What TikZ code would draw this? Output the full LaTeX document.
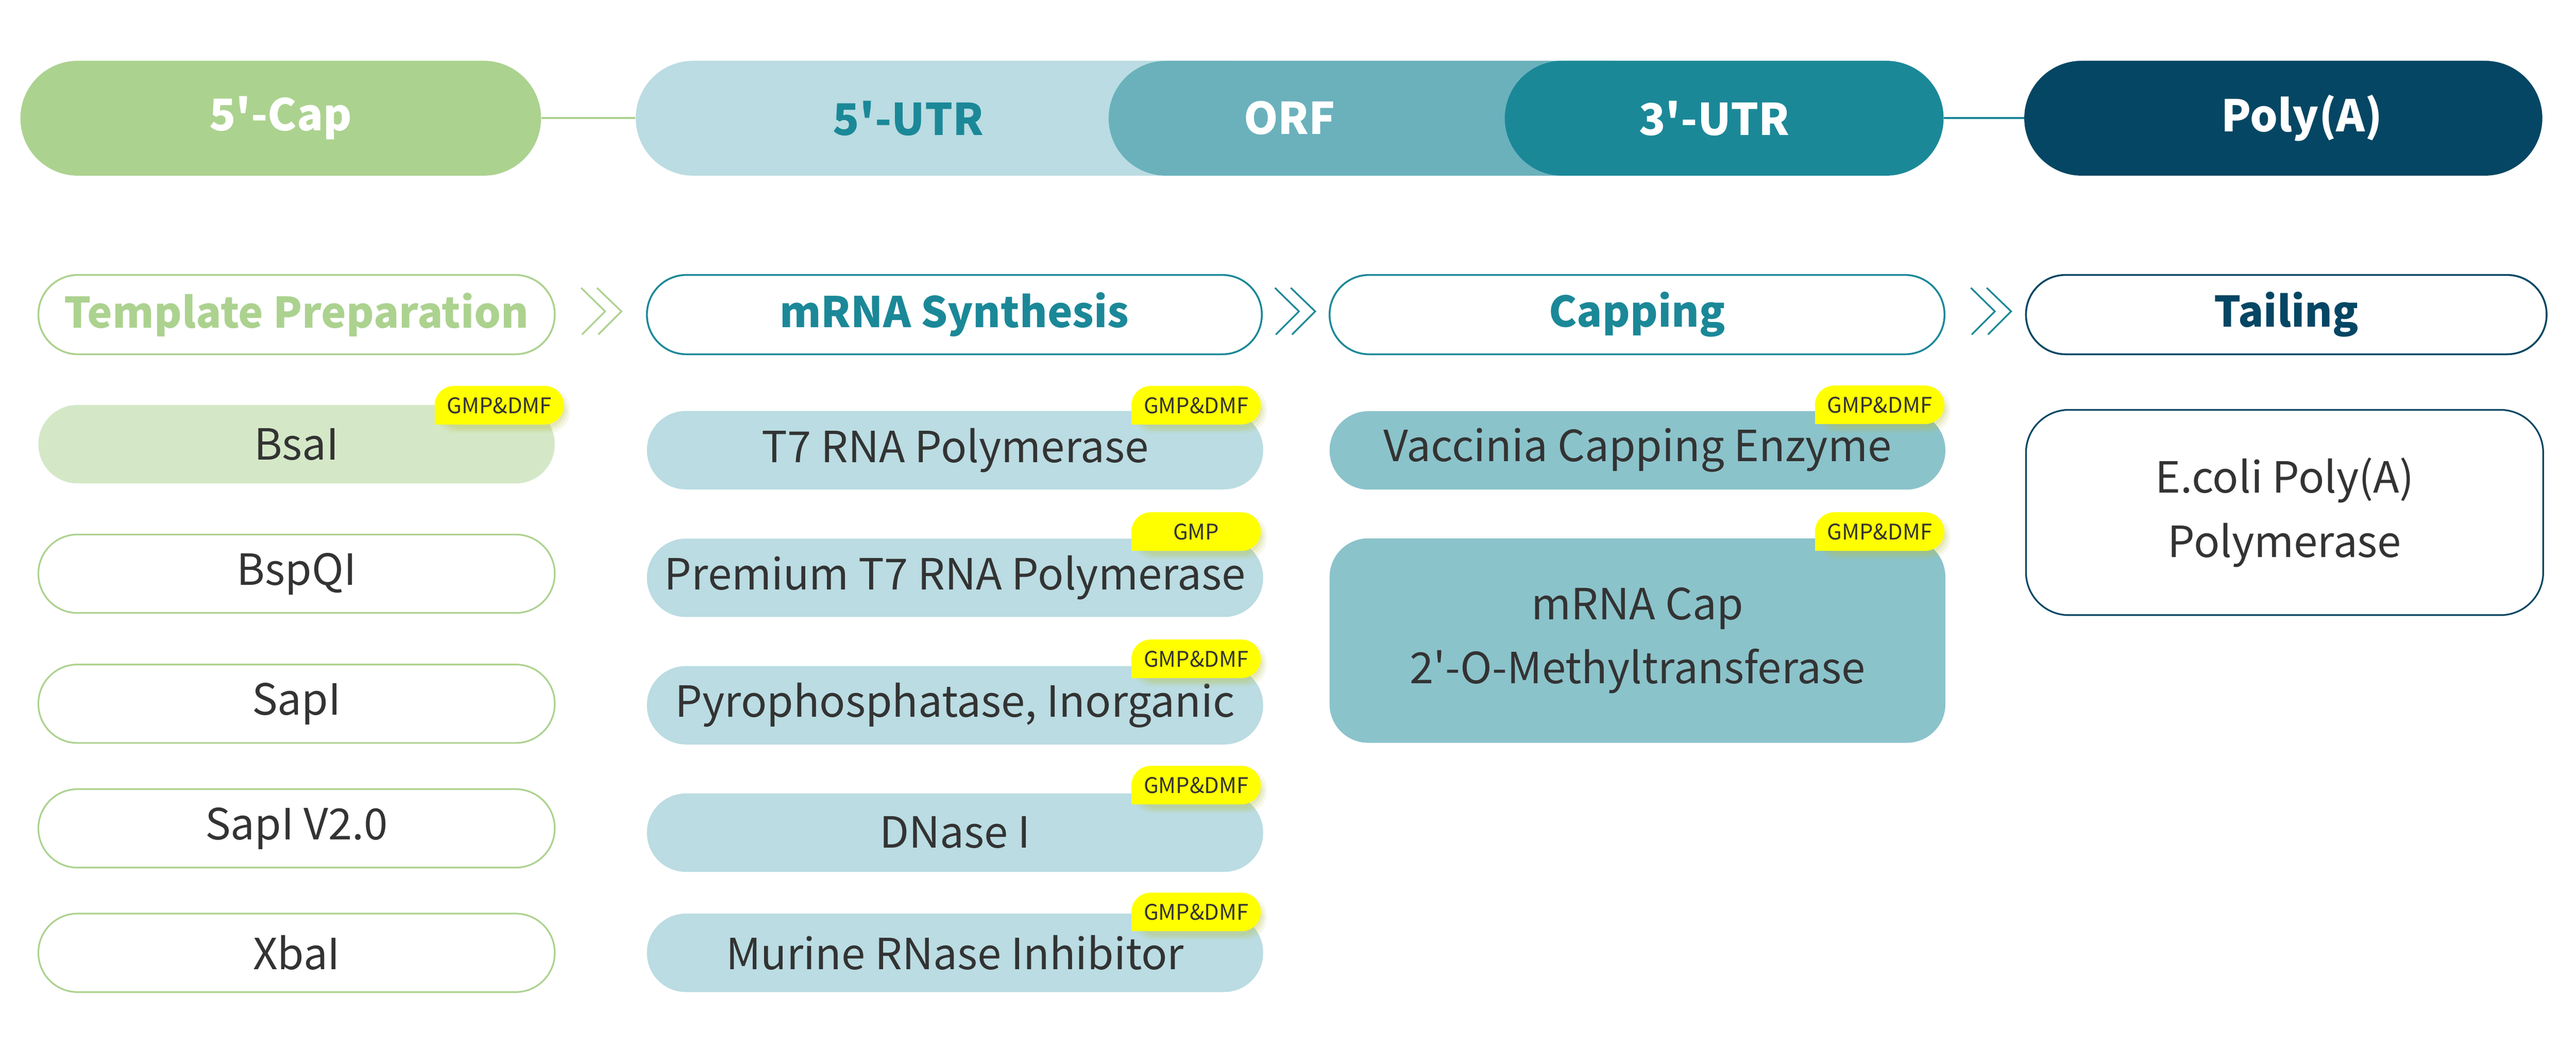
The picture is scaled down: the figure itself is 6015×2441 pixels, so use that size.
\documentclass[tikz,border=0pt]{standalone}
\usepackage{fontspec}
\setmainfont{Noto Sans CJK SC}
\newfontfamily\plainfam{Noto Sans CJK SC}
\newcommand\ap{{\plainfam\char39\relax}}
\definecolor{cgreen}{HTML}{ACD28F}
\definecolor{cgreenl}{HTML}{D4E8C7}
\definecolor{cblue}{HTML}{BADCE2}
\definecolor{corf}{HTML}{6AB1BC}
\definecolor{cteal}{HTML}{1B8898}
\definecolor{cnavy}{HTML}{044663}
\definecolor{cmid}{HTML}{8BC3CB}
\definecolor{ctext}{HTML}{333333}
\definecolor{cyel}{HTML}{FFFF00}
\definecolor{cshad}{HTML}{B8C040}
\tikzset{
  toppill/.style={rectangle, rounded corners=1.34cm, inner sep=0pt, minimum height=2.68cm},
  toplabel/.style={font=\fontsize{29}{34}\selectfont\bfseries, text=white},
  headpill/.style={rectangle, rounded corners=0.92cm, inner sep=0pt, minimum height=1.85cm, line width=1.2pt, fill=white, font=\fontsize{28}{34}\selectfont\bfseries},
  itempill/.style={rectangle, rounded corners=0.91cm, inner sep=0pt, minimum height=1.83cm, text=ctext, font=\fontsize{28.5}{34}\selectfont},
  itembox/.style={rectangle, inner sep=0pt, text=ctext, align=center, font=\fontsize{28.5}{42.7}\selectfont},
  badgetext/.style={inner sep=0pt, text=ctext, font=\fontsize{14.3}{17}\selectfont},
  chev/.style={line width=1.1pt},
  linkline/.style={line width=1.4pt}
}
\newcommand\mybadge[4]{%
  \begin{scope}[shift={(#1,#2)}]
    \foreach \d/\o in {14/0.10,9/0.14,4/0.18}{
      \fill[cshad, opacity=\o, rounded corners=0.5cm] (6-\d+8,10-\d+8) rectangle (302+\d,90+\d+6);
    }
    \fill[cyel, rounded corners=0.45cm] (0,0) rectangle (302,90);
    \fill[cyel] (0,40) rectangle (60,90);
    \node[badgetext] (#4) at (151,46) {#3};
  \end{scope}}
\begin{document}
\begin{tikzpicture}[x=0.01cm, y=-0.01cm]
\useasboundingbox[fill=white] (0,0) rectangle (6015,2441);
% ---------- top row
\node[toppill, fill=cgreen, minimum width=12.15cm] (cap) at (655.5,276) {};
\node[toppill, fill=cblue, minimum width=15.15cm] (utr5) at (2242.5,276) {};
\node[toppill, fill=corf, minimum width=13.11cm] (orf) at (3244.5,276) {};
\node[toppill, fill=cteal, minimum width=10.24cm] (utr3) at (4026,276) {};
\node[toppill, fill=cnavy, minimum width=12.09cm] (polya) at (5331.5,276) {};
\draw[linkline, cgreen] (cap.east) -- (utr5.west);
\draw[linkline, cteal] (utr3.east) -- (polya.west);
\node[toplabel] (tcap) at (655.5,276) {5\ap-Cap};
\node[toplabel, text=cteal] (tutr5) at (2121,276) {5\ap-UTR};
\node[toplabel] (torf) at (3011,276) {ORF};
\node[toplabel] (tutr3) at (4003,276) {3\ap-UTR};
\node[toplabel] (tpolya) at (5375,276) {Poly(A)};
% ---------- headers
\node[headpill, draw=cgreen, text=cgreen, minimum width=12.05cm] (tp) at (692.5,734.5) {Template Preparation};
\node[headpill, draw=cteal, text=cteal, minimum width=14.35cm] (ms) at (2228.5,734.5) {mRNA Synthesis};
\node[headpill, draw=cteal, text=cteal, minimum width=14.35cm] (cp) at (3822.5,734.5) {Capping};
\node[headpill, draw=cnavy, text=cnavy, minimum width=12.15cm] (tl) at (5338.5,734.5) {Tailing};
% chevrons
\foreach \cx/\cc in {1357/cgreen, 2977/cteal, 4602/cteal}{
  \draw[chev, \cc] (\cx,672) -- (\cx+56,727) -- (\cx+2,781);
  \draw[chev, \cc] (\cx+37,672) -- (\cx+94,727) -- (\cx+40,781);
}
% ---------- column 1
\node[itempill, fill=cgreenl, minimum width=12.05cm] (bsai) at (692.5,1037) {BsaI};
\node[itempill, draw=cgreen, line width=1.1pt, fill=white, minimum width=12.05cm] (bspqi) at (692.5,1339.5) {BspQI};
\node[itempill, draw=cgreen, line width=1.1pt, fill=white, minimum width=12.05cm] (sapi) at (692.5,1643) {SapI};
\node[itempill, draw=cgreen, line width=1.1pt, fill=white, minimum width=12.05cm] (sapi2) at (692.5,1934) {SapI V2.0};
\node[itempill, draw=cgreen, line width=1.1pt, fill=white, minimum width=12.05cm] (xbai) at (692.5,2224.5) {XbaI};
% ---------- column 2
\node[itempill, fill=cblue, minimum width=14.38cm] (t7) at (2230,1051) {T7 RNA Polymerase};
\node[itempill, fill=cblue, minimum width=14.38cm] (pt7) at (2230,1349) {Premium T7 RNA Polymerase};
\node[itempill, fill=cblue, minimum width=14.38cm] (ppa) at (2230,1646.5) {Pyrophosphatase, Inorganic};
\node[itempill, fill=cblue, minimum width=14.38cm] (dnase) at (2230,1944) {DNase I};
\node[itempill, fill=cblue, minimum width=14.38cm] (rni) at (2230,2224.5) {Murine RNase Inhibitor};
% ---------- column 3
\node[itempill, fill=cmid, minimum width=14.37cm] (vce) at (3823.5,1051.5) {Vaccinia Capping Enzyme};
\node[itembox, fill=cmid, rounded corners=0.9cm, minimum width=14.37cm, minimum height=4.77cm] (mtase) at (3823.5,1495.5) {mRNA Cap\\2\ap-O-Methyltransferase};
% ---------- column 4
\node[itembox, draw=cnavy, line width=1.1pt, fill=white, rounded corners=1.0cm, minimum width=12.07cm, minimum height=4.79cm] (pap) at (5334.5,1196.5) {E.coli Poly(A)\\Polymerase};
% ---------- badges
\mybadge{1015}{901}{GMP\&DMF}{b1}
\mybadge{2642}{901}{GMP\&DMF}{b2}
\mybadge{2642}{1196}{GMP}{b3}
\mybadge{2642}{1493}{GMP\&DMF}{b4}
\mybadge{2642}{1788}{GMP\&DMF}{b5}
\mybadge{2642}{2084}{GMP\&DMF}{b6}
\mybadge{4238}{900}{GMP\&DMF}{b7}
\mybadge{4238}{1196}{GMP\&DMF}{b8}
\end{tikzpicture}
\end{document}
